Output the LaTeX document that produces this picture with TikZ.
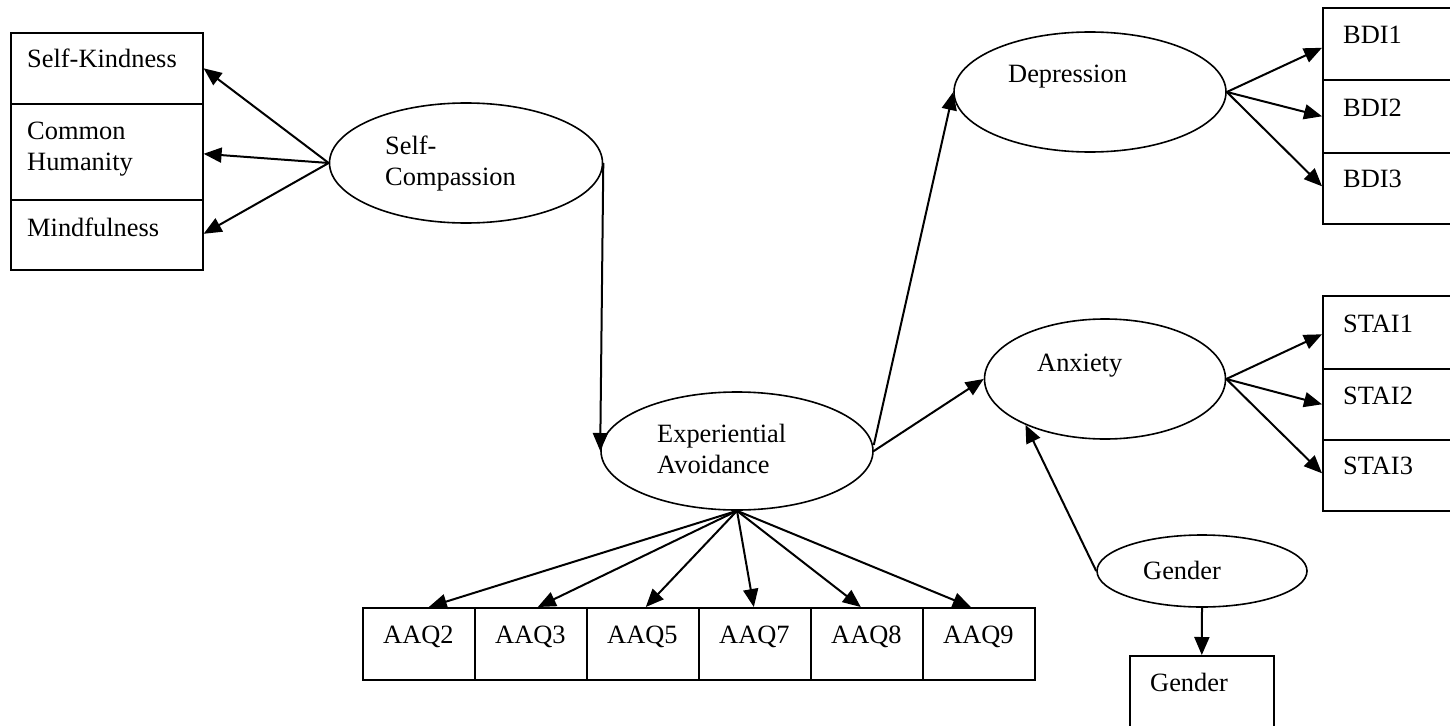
\documentclass[tikz,border=0pt]{standalone}
\usepackage{fontspec}
\setmainfont{Liberation Serif}
\usetikzlibrary{arrows.meta,shapes.geometric}
\begin{document}
\begin{tikzpicture}[x=1pt,y=-1pt,
  txt/.style={inner sep=0pt, anchor=base west, font=\fontsize{26.4}{31}\selectfont},
  obs/.style={draw, line width=1.6pt, rectangle, inner sep=0pt, anchor=north west},
  lat/.style={draw, line width=1.6pt, ellipse, inner sep=0pt},
  link/.style={line width=2pt, -{Triangle[length=18pt,width=15pt]}}
]
\useasboundingbox (0,0) rectangle (1450,725);
\clip (0,0) rectangle (1450,725);

% Self-compassion indicators
\node[obs, minimum width=192pt, minimum height=71pt] (sk) at (10,32) {};
\node[obs, minimum width=192pt, minimum height=96pt] (ch) at (10,103) {};
\node[obs, minimum width=192pt, minimum height=70pt] (mf) at (10,199) {};
\node[txt] (skt) at (27,67) {Self-Kindness};
\node[txt] (cht) at (27,139) {\begin{tabular}[t]{@{}l@{}}Common\\Humanity\end{tabular}};
\node[txt] (mft) at (27,236) {Mindfulness};

% Latent variables
\node[lat, minimum width=273pt, minimum height=120pt] (sc) at (466,163) {};
\node[txt] (sct) at (385,154) {\begin{tabular}[t]{@{}l@{}}Self-\\Compassion\end{tabular}};

\node[lat, minimum width=272pt, minimum height=118pt] (ea) at (737,451) {};
\node[txt] (eat) at (657,442) {\begin{tabular}[t]{@{}l@{}}Experiential\\Avoidance\end{tabular}};

\node[lat, minimum width=272pt, minimum height=120pt] (dep) at (1090,92) {};
\node[txt] (dept) at (1008,82) {Depression};

\node[lat, minimum width=241pt, minimum height=120pt] (anx) at (1105,379) {};
\node[txt] (anxt) at (1037,371) {Anxiety};

\node[lat, minimum width=210pt, minimum height=72pt] (gen) at (1202,571) {};
\node[txt] (gent) at (1143,579) {Gender};

% Depression indicators
\node[obs, minimum width=150pt, minimum height=72pt] (b1) at (1322,7) {};
\node[obs, minimum width=150pt, minimum height=73pt] (b2) at (1322,79) {};
\node[obs, minimum width=150pt, minimum height=71pt] (b3) at (1322,152) {};
\node[txt] (b1t) at (1343,44) {BDI1};
\node[txt] (b2t) at (1343,116) {BDI2};
\node[txt] (b3t) at (1343,187) {BDI3};

% Anxiety indicators
\node[obs, minimum width=150pt, minimum height=73pt] (s1) at (1322,295) {};
\node[obs, minimum width=150pt, minimum height=71pt] (s2) at (1322,368) {};
\node[obs, minimum width=150pt, minimum height=71pt] (s3) at (1322,439) {};
\node[txt] (s1t) at (1343,332) {STAI1};
\node[txt] (s2t) at (1343,404) {STAI2};
\node[txt] (s3t) at (1343,474) {STAI3};

% Gender indicator (runs past the lower edge)
\node[obs, minimum width=144pt, minimum height=90pt] (gb) at (1129,655) {};
\node[txt] (gbt) at (1150,691) {Gender};

% Experiential avoidance indicators
\foreach \n/\lab [count=\i from 0] in {a2/AAQ2,a3/AAQ3,a5/AAQ5,a7/AAQ7,a8/AAQ8,a9/AAQ9}{
  \node[obs, minimum width=112pt, minimum height=72pt] (\n) at (362+112*\i,607) {};
  \node[txt] (\n t) at (383+112*\i,643) {\lab};
}

% Paths
\draw[link] (sc.west) -- (sk.east);
\draw[link] (sc.west) -- ([yshift=-2pt]ch.east);
\draw[link] (sc.west) -- ([yshift=1pt]mf.east);

\draw[link] (sc.east) -- (ea.west);

\draw[link] ([yshift=6pt]ea.east) -- (dep.west);
\draw[link] (ea.east) -- (anx.west);

\draw[link] (dep.east) -- ([yshift=-4pt]b1.west);
\draw[link] (dep.east) -- (b2.west);
\draw[link] (dep.east) -- ([yshift=2pt]b3.west);

\draw[link] (anx.east) -- ([yshift=-2pt]s1.west);
\draw[link] (anx.east) -- (s2.west);
\draw[link] (anx.east) -- ([yshift=2pt]s3.west);

\draw[link] (gen.west) -- (anx.210);
\draw[link] (gen.south) -- (gb.north);

\draw[link] (ea.south) -- ([xshift=10pt]a2.north);
\draw[link] (ea.south) -- ([xshift=7pt]a3.north);
\draw[link] (ea.south) -- ([xshift=3pt]a5.north);
\draw[link] (ea.south) -- ([xshift=-1pt]a7.north);
\draw[link] (ea.south) -- ([xshift=-6pt]a8.north);
\draw[link] (ea.south) -- ([xshift=-8pt]a9.north);
\end{tikzpicture}
\end{document}
